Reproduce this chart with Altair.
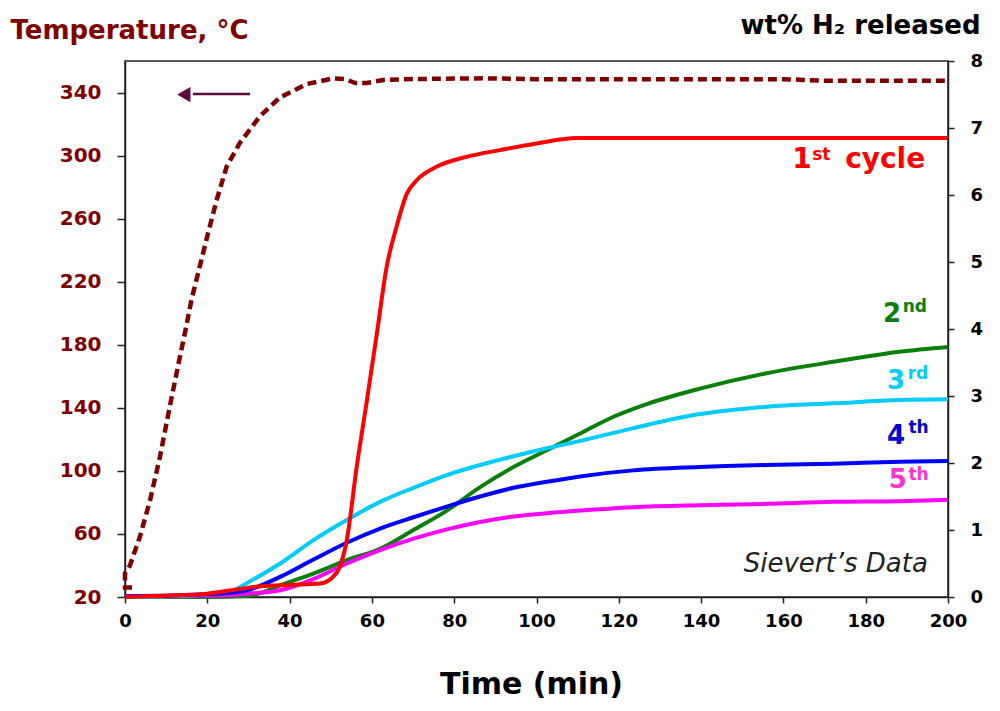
import altair as alt
import pandas as pd

FONT = "DejaVu Sans"
TEMP_COLOR = "#800000"

# ---------------- data ----------------
temp_t = [1.7, 0.0, 0.0, 1.2, 3.6, 6.1, 8.5, 10.9, 13.0, 14.6, 16.2, 18.2, 20.2, 22.3, 24.7,
          27.9, 32.8, 37.7, 44.2, 50.6, 53.5, 56.0, 58.7, 62.8, 70.9, 87.0, 100, 130, 160,
          165, 170, 200]
temp_v = [26, 26, 35, 40, 58, 81.5, 109, 141, 168, 188, 209, 230, 251, 272, 293,
          308, 325, 337, 345.4, 349, 348.5, 346, 346, 348, 348.6, 349, 348.5, 348.5, 348.5,
          348, 347.5, 347.5]

red_t = [0, 10, 20, 28, 33, 40, 47.4, 50.2, 52.2, 53.9, 56.3, 58.7, 61.2, 63.6, 66, 68.5,
         70.9, 75.7, 83, 91.1, 100, 109.8, 200]
red_v = [0, 0.02, 0.05, 0.12, 0.16, 0.18, 0.2, 0.28, 0.45, 0.85, 1.94, 2.9, 3.93, 4.93,
         5.53, 6.02, 6.22, 6.42, 6.57, 6.67, 6.77, 6.85, 6.85]

green_t = [0, 20, 30, 34, 37.7, 45.8, 53.9, 62, 70.1, 78.2, 86.3, 94.4, 102.5, 110.6, 118.7,
           126.8, 139.7, 155.9, 172.1, 188.3, 200]
green_v = [0, 0, 0.02, 0.08, 0.175, 0.35, 0.55, 0.72, 1.0, 1.29, 1.64, 1.94, 2.19, 2.44,
           2.69, 2.88, 3.11, 3.34, 3.51, 3.66, 3.73]

cyan_t = [0, 10, 20, 26.4, 30, 37.7, 45.8, 53.9, 62, 70.1, 78.2, 86.3, 94.4, 102.5, 110.6,
          123.5, 139.7, 155.9, 172.1, 188.3, 200]
cyan_v = [0, 0.01, 0.04, 0.1, 0.22, 0.50, 0.85, 1.15, 1.42, 1.63, 1.82, 1.97, 2.10, 2.22,
          2.33, 2.52, 2.73, 2.84, 2.89, 2.94, 2.95]

blue_t = [0, 8, 20, 25, 29.5, 37.7, 45.8, 53.9, 62, 70.1, 78.2, 86.3, 94.4, 102.5, 110.6,
          123.5, 139.7, 155.9, 172.1, 188.3, 200]
blue_v = [0.01, 0.02, 0.04, 0.06, 0.1, 0.30, 0.56, 0.81, 1.02, 1.19, 1.35, 1.50, 1.63, 1.72,
          1.80, 1.89, 1.94, 1.97, 1.99, 2.02, 2.03]

mag_t = [0, 10, 20, 26, 30, 37.7, 45.8, 53.9, 62, 70.1, 78.2, 86.3, 94.4, 102.5, 110.6,
         123.5, 139.7, 155.9, 172.1, 188.3, 200]
mag_v = [0.01, 0.01, 0.02, 0.03, 0.05, 0.1, 0.27, 0.5, 0.70, 0.87, 1.01, 1.12, 1.20, 1.25,
         1.29, 1.34, 1.37, 1.39, 1.42, 1.43, 1.45]

series_names = ["2nd", "5th", "3rd", "4th", "1st"]
series_colors = ["#0a800a", "#ff00ff", "#00ccff", "#0000ff", "#ff0000"]

x_ticks = list(range(0, 201, 20))
temp_ticks = list(range(20, 341, 40))
wt_ticks = list(range(0, 9))

# annotation arrays
arrow_t = [16.5, 30.4]
arrow_v = [339, 339]
head_t = [14.3]
head_v = [338.7]

digit_text = ["1", "2", "3", "4", "5"]
digit_t = [166.9, 188.6, 189.6, 189.6, 190.0]
digit_wt = [6.52, 4.22, 3.22, 2.40, 1.74]
digit_color = ["#ff0000", "#0a800a", "#00ccff", "#0000cc", "#ff33cc"]
digit_size = [28, 26, 26, 26, 26]

sup_text = ["st", "nd", "rd", "th", "th"]
sup_t = [167.0, 189.0, 190.2, 190.4, 190.4]
sup_wt = [6.60, 4.33, 3.33, 2.52, 1.82]

cycle_text = ["cycle"]
cycle_t = [175.0]
cycle_wt = [6.52]

note_text = ["Sievert\u2019s Data"]
note_t = [195.1]
note_wt = [0.50]

# ---------------- frames ----------------
df_temp = pd.DataFrame({"t": temp_t, "T": temp_v, "i": list(range(len(temp_t)))})
df_arrow = pd.DataFrame({"t": arrow_t, "T": arrow_v})
df_head = pd.DataFrame({"t": head_t, "T": head_v})

parts = []
for name, tt, vv in [("2nd", green_t, green_v), ("5th", mag_t, mag_v), ("3rd", cyan_t, cyan_v),
                     ("4th", blue_t, blue_v), ("1st", red_t, red_v)]:
    parts.append(pd.DataFrame({"t": tt, "wt": vv, "series": name}))
df_wt = pd.concat(parts, ignore_index=True)

df_digit = pd.DataFrame({"t": digit_t, "wt": digit_wt, "label": digit_text,
                         "c": digit_color, "s": digit_size})
df_sup = pd.DataFrame({"t": sup_t, "wt": sup_wt, "label": sup_text, "c": digit_color})
df_cycle = pd.DataFrame({"t": cycle_t, "wt": cycle_wt, "label": cycle_text})
df_note = pd.DataFrame({"t": note_t, "wt": note_wt, "label": note_text})

# ---------------- encodings ----------------
x_axis = alt.Axis(values=x_ticks, title="Time (min)", labelFont=FONT, labelFontSize=18,
                  labelFontWeight="bold", labelColor="black", labelFlush=False,
                  tickSize=6, tickColor="#222", tickWidth=1.5, labelPadding=9,
                  domainColor="#222", domainWidth=1.5,
                  titleFont=FONT, titleFontSize=30, titleFontWeight="bold", titleColor="black",
                  titleX=406, titleY=87, titleBaseline="middle")
X = alt.X("t:Q", scale=alt.Scale(domain=[0, 200], nice=False), axis=x_axis)

left_axis = alt.Axis(values=temp_ticks, orient="left", title="Temperature, \u00b0C",
                     labelFont=FONT, labelFontSize=20, labelFontWeight="bold",
                     labelColor=TEMP_COLOR, labelFlush=False, labelPadding=16,
                     tickSize=8, tickColor="#222", tickWidth=1.5,
                     domainColor="#222", domainWidth=1.5,
                     titleFont=FONT, titleFontSize=26, titleFontWeight="bold",
                     titleColor=TEMP_COLOR, titleAngle=0, titleAlign="left",
                     titleBaseline="middle", titleX=-115, titleY=-31)
YT = alt.Y("T:Q", scale=alt.Scale(domain=[20, 360], nice=False, zero=False), axis=left_axis)

right_axis = alt.Axis(values=wt_ticks, orient="right", title="wt% H\u2082 released",
                      labelFont=FONT, labelFontSize=18, labelFontWeight="bold",
                      labelColor="black", labelFlush=False, labelPadding=16,
                      tickSize=6, tickColor="#222", tickWidth=1.5,
                      domainColor="#222", domainWidth=1.5,
                      titleFont=FONT, titleFontSize=26, titleFontWeight="bold",
                      titleColor="black", titleAngle=0, titleAlign="right",
                      titleBaseline="middle", titleX=32, titleY=-36)
YW = alt.Y("wt:Q", scale=alt.Scale(domain=[0, 8], nice=False, zero=True), axis=right_axis)

# ---------------- temperature layer ----------------
temp_line = alt.Chart(df_temp).mark_line(color=TEMP_COLOR, strokeWidth=4.5,
                                         strokeDash=[9, 5]).encode(x=X, y=YT, order="i:Q")
arrow_line = alt.Chart(df_arrow).mark_line(color="#5e0a3c", strokeWidth=2.5).encode(x=X, y=YT)
arrow_head = alt.Chart(df_head).mark_point(shape="triangle-left", filled=True, size=230,
                                           color="#5e0a3c", opacity=1).encode(x=X, y=YT)
temp_layer = alt.layer(temp_line, arrow_line, arrow_head)

# ---------------- wt% layer ----------------
wt_lines = alt.Chart(df_wt).mark_line(strokeWidth=4, interpolate="monotone").encode(
    x=X, y=YW,
    color=alt.Color("series:N", scale=alt.Scale(domain=series_names, range=series_colors),
                    legend=None),
)
digits = alt.Chart(df_digit).mark_text(align="right", baseline="middle", font=FONT,
                                       fontWeight="bold").encode(
    x=X, y=YW, text="label:N", color=alt.Color("c:N", scale=None),
    size=alt.Size("s:Q", scale=None))
sups = alt.Chart(df_sup).mark_text(align="left", baseline="middle", font=FONT,
                                   fontWeight="bold", fontSize=17).encode(
    x=X, y=YW, text="label:N", color=alt.Color("c:N", scale=None))
cycle = alt.Chart(df_cycle).mark_text(align="left", baseline="middle", font=FONT,
                                      fontWeight="bold", fontSize=28, color="#ff0000").encode(
    x=X, y=YW, text="label:N")
note = alt.Chart(df_note).mark_text(align="right", baseline="middle", font=FONT,
                                    fontStyle="italic", fontSize=26, color="#222").encode(
    x=X, y=YW, text="label:N")
wt_layer = alt.layer(wt_lines, digits, sups, cycle, note)

chart = alt.layer(temp_layer, wt_layer).resolve_scale(y="independent").properties(
    width=823, height=536,
    padding={"left": 117, "top": 53, "right": 44, "bottom": 110},
    autosize=alt.AutoSizeParams(type="none"),
    background="white",
).configure_view(stroke="#222", strokeWidth=1.5).configure_axis(grid=False)

chart.save("out.html", embed_options={"renderer": "svg", "actions": False})
